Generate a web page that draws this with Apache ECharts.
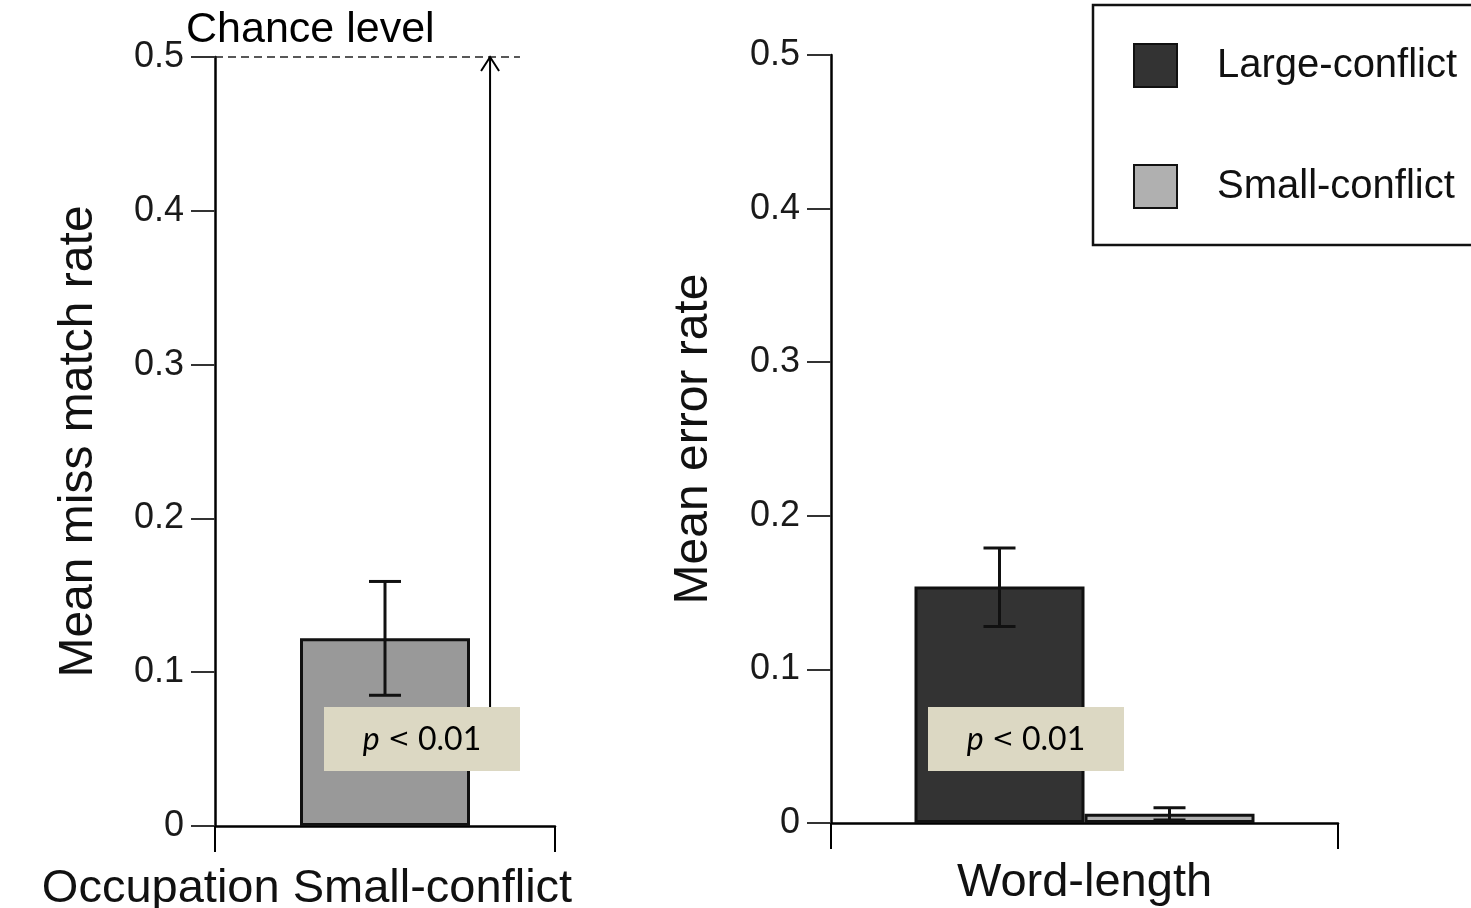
<!DOCTYPE html>
<html>
<head>
<meta charset="utf-8">
<script src="https://cdn.jsdelivr.net/npm/echarts@6/dist/echarts.min.js"></script>
<style>
html,body{margin:0;padding:0;background:#fff;}
#main{width:1471px;height:908px;}
</style>
</head>
<body>
<div id="main"></div>
<script>
// ---- data ----
const leftCategories = ['Occupation Small-conflict'];
const leftValues = [0.122];
const leftErrLow = [0.085];
const leftErrHigh = [0.159];

const rightCategories = ['Word-length'];
const seriesNames = ['Large-conflict', 'Small-conflict'];
const largeValues = [0.154];
const largeErrLow = [0.128];
const largeErrHigh = [0.179];
const smallValues = [0.006];
const smallErrLow = [0.002];
const smallErrHigh = [0.010];

const chanceLevel = 0.5;
const chanceText = 'Chance level';
const leftYTitle = 'Mean miss match rate';
const rightYTitle = 'Mean error rate';
const pParts = ['p', ' < ', '0.01'];

const yMin = 0, yMax = 0.5, yInterval = 0.1;

// ---- styles ----
const FONT = '"Liberation Sans", Arial, sans-serif';
const PFONT = 'Lato, "Open Sans", sans-serif';
const BAR_W = 170;
const chart = echarts.init(document.getElementById('main'));

function errItem(offset) {
  return function (params, api) {
    const lo = api.coord([api.value(0), api.value(1)]);
    const hi = api.coord([api.value(0), api.value(2)]);
    const x = lo[0] + offset;
    const hw = 16;
    const st = { stroke: '#111', lineWidth: 3 };
    return {
      type: 'group',
      children: [
        { type: 'line', shape: { x1: x, y1: lo[1], x2: x, y2: hi[1] }, style: st },
        { type: 'line', shape: { x1: x - hw, y1: lo[1], x2: x + hw, y2: lo[1] }, style: st },
        { type: 'line', shape: { x1: x - hw, y1: hi[1], x2: x + hw, y2: hi[1] }, style: st }
      ]
    };
  };
}

function chanceItem(params, api) {
  const p = api.coord([api.value(0), api.value(1)]);
  const band = api.size([1, 0])[0];
  const y = p[1];
  const xStart = p[0] - band / 2;
  const xEnd = p[0] + band * 0.397;
  const ax = p[0] + band * 0.309;
  const ay2 = 707;
  return {
    type: 'group',
    children: [
      { type: 'line', shape: { x1: xStart, y1: y, x2: xEnd, y2: y },
        style: { stroke: '#222', lineWidth: 1.5, lineDash: [8, 5] } },
      { type: 'line', shape: { x1: ax, y1: ay2, x2: ax, y2: y },
        style: { stroke: '#000', lineWidth: 2 } },
      { type: 'polyline', shape: { points: [[ax - 9, y + 14], [ax, y], [ax + 9, y + 14]] },
        style: { stroke: '#000', lineWidth: 2, fill: null } }
    ]
  };
}

function pBox(left) {
  return { type: 'group', left: left, top: 707, z: 100, children: [
    { type: 'rect', z: 100, shape: { x: 0, y: 0, width: 196, height: 64 }, style: { fill: '#dcd8c3' } },
    { type: 'text', z: 101, x: 98, y: 33, style: {
        text: '{i|' + pParts[0] + '}{s|' + pParts[1] + '}{n|' + pParts[2] + '}',
        align: 'center', verticalAlign: 'middle',
        rich: {
          i: { fontFamily: PFONT, fontStyle: 'italic', fontSize: 32, fill: '#000' },
          s: { fontFamily: '"DejaVu Sans", sans-serif', fontSize: 26, fill: '#000' },
          n: { fontFamily: PFONT, fontSize: 32, fill: '#000' }
        } } }
  ] };
}

const yAxisCommon = {
  type: 'value', min: yMin, max: yMax, interval: yInterval,
  axisLine: { show: true, lineStyle: { color: '#000', width: 2.5 } },
  axisTick: { show: true, length: 24, lineStyle: { color: '#333', width: 2 } },
  axisLabel: { fontFamily: FONT, fontSize: 36, color: '#1a1a1a', margin: 31 },
  splitLine: { show: false },
  nameLocation: 'middle', nameRotate: 90,
  nameTextStyle: { fontFamily: FONT, fontSize: 48, color: '#111' }
};

const xAxisCommon = {
  type: 'category',
  axisLine: { show: true, lineStyle: { color: '#000', width: 2.5 } },
  axisTick: { show: true, length: 26, lineStyle: { color: '#000', width: 2 } },
  axisLabel: { fontFamily: FONT, fontSize: 47, color: '#111', margin: 37 }
};

const option = {
  backgroundColor: '#fff',
  animation: false,
  grid: [
    { left: 215, right: 1471 - 555, top: 57, bottom: 908 - 826, outerBoundsMode: 'none', containLabel: false },
    { left: 831, right: 1471 - 1338, top: 55, bottom: 908 - 823, outerBoundsMode: 'none', containLabel: false }
  ],
  xAxis: [
    Object.assign({}, xAxisCommon, { gridIndex: 0, data: leftCategories,
      axisLabel: Object.assign({}, xAxisCommon.axisLabel, { margin: 40, padding: [0, 156, 0, 0] }) }),
    Object.assign({}, xAxisCommon, { gridIndex: 1, data: rightCategories })
  ],
  yAxis: [
    Object.assign({}, yAxisCommon, { gridIndex: 0, name: leftYTitle, nameGap: 112 }),
    Object.assign({}, yAxisCommon, { gridIndex: 1, name: rightYTitle, nameGap: 113 })
  ],
  legend: {
    data: seriesNames,
    orient: 'vertical',
    left: 1093, top: 5,
    padding: [38, 60, 36, 40],
    icon: 'rect',
    itemWidth: 43, itemHeight: 43, itemGap: 76,
    borderColor: '#111', borderWidth: 2.5,
    textStyle: { fontFamily: FONT, fontSize: 40, color: '#111', padding: [0, 0, 0, 35] }
  },
  series: [
    {
      name: 'Occupation', type: 'bar', xAxisIndex: 0, yAxisIndex: 0,
      data: leftValues, barWidth: BAR_W,
      itemStyle: { color: '#999999', borderColor: '#111', borderWidth: 3 }
    },
    {
      name: 'Occupation-err', type: 'custom', xAxisIndex: 0, yAxisIndex: 0,
      renderItem: errItem(0),
      data: leftCategories.map((c, i) => [i, leftErrLow[i], leftErrHigh[i]]),
      z: 5
    },
    {
      name: 'chance', type: 'custom', xAxisIndex: 0, yAxisIndex: 0,
      renderItem: chanceItem,
      data: [[0, chanceLevel]], z: 6
    },
    {
      name: seriesNames[0], type: 'bar', xAxisIndex: 1, yAxisIndex: 1,
      data: largeValues, barWidth: BAR_W, barGap: '0%',
      itemStyle: { color: '#333333', borderColor: '#111', borderWidth: 3 }
    },
    {
      name: seriesNames[1], type: 'bar', xAxisIndex: 1, yAxisIndex: 1,
      data: smallValues, barWidth: BAR_W, barGap: '0%',
      itemStyle: { color: '#b0b0b0', borderColor: '#111', borderWidth: 3 }
    },
    {
      name: 'large-err', type: 'custom', xAxisIndex: 1, yAxisIndex: 1,
      renderItem: errItem(-BAR_W / 2),
      data: rightCategories.map((c, i) => [i, largeErrLow[i], largeErrHigh[i]]),
      z: 5
    },
    {
      name: 'small-err', type: 'custom', xAxisIndex: 1, yAxisIndex: 1,
      renderItem: errItem(BAR_W / 2),
      data: rightCategories.map((c, i) => [i, smallErrLow[i], smallErrHigh[i]]),
      z: 5
    }
  ],
  graphic: {
    z: 100,
    elements: [
      { type: 'text', left: 186, top: 9, z: 100,
        style: { text: chanceText, fontFamily: FONT, fontSize: 43, fill: '#000' } },
      pBox(324),
      pBox(928)
    ]
  }
};
chart.setOption(option);
</script>
</body>
</html>
